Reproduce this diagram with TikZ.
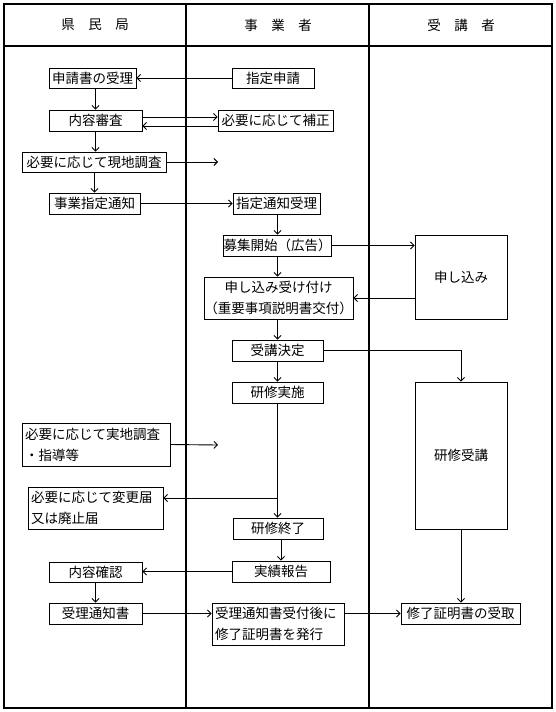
\documentclass[tikz,border=0pt]{standalone}
\usepackage{fontspec}
\newfontfamily\jpfont{Noto Sans CJK JP}
\usepackage{tikz}
\usetikzlibrary{arrows.meta, positioning}

\begin{document}
\begin{tikzpicture}[
  x=1pt, y=-1pt,
  frame/.style={draw=black, line width=2pt},
  box/.style={
    rectangle, draw=black, line width=0.9pt, inner sep=0pt,
    font=\jpfont\fontsize{13.5}{21}\selectfont, align=center, fill=white
  },
  note/.style={box, align=left, inner xsep=3pt},
  sz/.style 2 args={minimum width=#1pt, minimum height=#2pt},
  lane/.style={font=\jpfont\fontsize{13.5}{16}\selectfont},
  arr/.style={-{Straight Barb[length=3.5pt,width=7pt]}, line width=0.9pt}
]
\useasboundingbox (0,0) rectangle (556,712);

% --- Frame and lanes ---
\draw[frame] (4,4) rectangle (552,708);
\draw[frame] (4,46) -- (552,46);
\draw[frame] (186,4) -- (186,708);
\draw[frame] (369,4) -- (369,708);
\node[lane] (kenmin) at (95,25)  {県　民　局};
\node[lane] (jigyo)  at (278,25) {事　業　者};
\node[lane] (jukosha)at (461,25) {受　講　者};

% --- Application ---
\node[box, sz={87}{20}]  (juri)      at (92.5,78)   {申請書の受理};
\node[box, sz={82}{20}]  (shinsei)   at (273,78)    {指定申請};
\node[box, sz={93}{21}]  (shinsa)    at (95.5,120.5){内容審査};
\node[box, sz={115}{21}] (hosei)     at (275.5,120.5){必要に応じて補正};
\node[box, sz={144}{20}] (genchi)    at (94,162)    {必要に応じて現地調査};
\node[box, sz={91}{21}]  (tsuchi)    at (94.5,203.5){事業指定通知};
\node[box, sz={87}{21}]  (tsuchijuri)at (276.5,203.5){指定通知受理};
\coordinate (genchiEnd) at (218,162);

% --- Recruitment ---
\node[box, sz={105}{21}] (boshu)     at (277.5,245.5){募集開始（広告）};
\node[box, sz={92}{84}]  (moshikomi) at (461,277)   {申し込み};
\node[box, sz={149}{42}] (uketsuke)  at (278.5,298) {申し込み受け付け\\（重要事項説明書交付）};
\node[box, sz={91}{21}]  (kettei)    at (277.5,350.5){受講決定};

% --- Training ---
\node[box, sz={91}{21}]  (jisshi)    at (277.5,392.5){研修実施};
\node[box, sz={92}{147}] (jukou)     at (461,455.5) {研修受講};
\node[note, sz={148}{43}, text width=142pt] (jicchi) at (96,444.5) {必要に応じて実地調査\\・指導等};
\node[note, sz={135}{42}, text width=129pt] (henko)  at (95.5,508) {必要に応じて変更届\\又は廃止届};
\node[box, sz={90}{21}]  (shuryo)    at (278,528.5) {研修終了};
\coordinate (jicchiEnd) at (218,445);
\coordinate (branch) at (278,498);

% --- Report and certificate ---
\node[box, sz={93}{20}]  (kakunin)   at (95.5,572)  {内容確認};
\node[box, sz={98}{21}]  (hokoku)    at (281,571.5) {実績報告};
\node[box, sz={93}{21}]  (juritsuchi)at (95.5,613.5){受理通知書};
\node[note, sz={132}{42}, text width=126pt] (hakko) at (278,624) {受理通知書受付後に\\修了証明書を発行};
\node[box, sz={119}{21}] (uketori)   at (460.5,613.5){修了証明書の受取};

% Arrows
\draw[arr] (shinsei.west) -- (juri.east);
\draw[arr] (shinsa.north |- juri.south) -- (shinsa.north);
\draw[arr] ([yshift=3.5pt]shinsa.east) -- ([yshift=3.5pt]hosei.west);
\draw[arr] ([yshift=-5.5pt]hosei.west) -- ([yshift=-5.5pt]shinsa.east);
\draw[arr] (shinsa.south) -- (shinsa.south |- genchi.north);
\draw[arr] (genchi.east) -- (genchiEnd);
\draw[arr] (tsuchi.north |- genchi.south) -- (tsuchi.north);
\draw[arr] (tsuchi.east) -- (tsuchijuri.west);
\draw[arr] (boshu.north |- tsuchijuri.south) -- (boshu.north);
\draw[arr] (boshu.east) -- (boshu.east -| moshikomi.west);
\draw[arr] (boshu.south) -- (boshu.south |- uketsuke.north);
\draw[arr] (moshikomi.west |- uketsuke.east) -- (uketsuke.east);
\draw[arr] (kettei.north |- uketsuke.south) -- (kettei.north);
\draw[arr] (kettei.east) -| (jukou.north);
\draw[arr] (kettei.south) -- (jisshi.north);
\draw[arr] (jicchi.east) -- (jicchiEnd);
\draw[arr] (jisshi.south) -- (jisshi.south |- shuryo.north);
\draw[arr] (branch) -- (branch -| henko.east);
\draw[arr] (hokoku.north |- shuryo.south) -- (hokoku.north);
\draw[arr] (hokoku.west) -- (hokoku.west -| kakunin.east);
\draw[arr] (kakunin.south) -- (juritsuchi.north);
\draw[arr] (juritsuchi.east) -- (juritsuchi.east -| hakko.west);
\draw[arr] (hakko.east |- uketori.west) -- (uketori.west);
\draw[arr] (jukou.south) -- (jukou.south |- uketori.north);

\end{tikzpicture}
\end{document}
